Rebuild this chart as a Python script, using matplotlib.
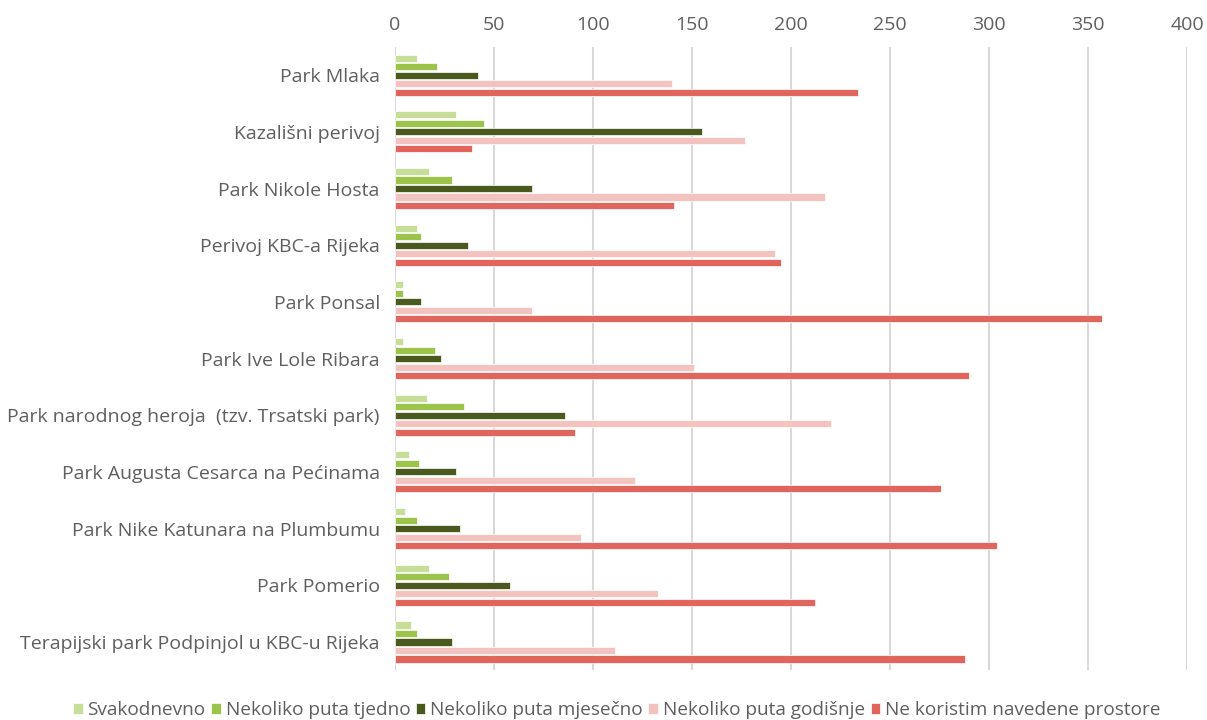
import numpy as np
import matplotlib
matplotlib.use("Agg")
import matplotlib.pyplot as plt

parks = ["Park Mlaka", "Kazališni perivoj", "Park Nikole Hosta", "Perivoj KBC-a Rijeka",
         "Park Ponsal", "Park Ive Lole Ribara", "Park narodnog heroja  (tzv. Trsatski park)",
         "Park Augusta Cesarca na Pećinama", "Park Nike Katunara na Plumbumu",
         "Park Pomerio", "Terapijski park Podpinjol u KBC-u Rijeka"]

series = ["Svakodnevno", "Nekoliko puta tjedno", "Nekoliko puta mjesečno",
          "Nekoliko puta godišnje", "Ne koristim navedene prostore"]
svakodnevno = [11, 31, 17, 11, 4, 4, 16, 7, 5, 17, 8]
tjedno      = [21, 45, 29, 13, 4, 20, 35, 12, 11, 27, 11]
mjesecno    = [42, 155, 69, 37, 13, 23, 86, 31, 33, 58, 29]
godisnje    = [140, 177, 217, 192, 69, 151, 220, 121, 94, 133, 111]
ne_koristim = [234, 39, 141, 195, 357, 290, 91, 276, 304, 212, 288]
colors = ["#C6DE98", "#9CC44A", "#4A5A1F", "#F2C3BF", "#E0655D"]

plt.rcParams["font.family"] = ["Open Sans", "DejaVu Sans"]
fig = plt.figure(figsize=(12.07, 7.2), dpi=100)
ax = fig.add_axes([0.3273, 0.069, 0.9834 - 0.3273, 0.935 - 0.069])

y = np.arange(len(parks))
step, h = 0.15, 0.125
for i, (vals, c, name) in enumerate(zip([svakodnevno, tjedno, mjesecno, godisnje, ne_koristim],
                                         colors, series)):
    ax.barh(y + (i - 2) * step, vals, height=h, color=c, edgecolor="white",
            linewidth=0.5, label=name, zorder=3)

ax.set_xlim(0, 400)
ax.set_ylim(len(parks) - 0.5, -0.5)
ax.xaxis.tick_top()
ax.set_xticks(range(0, 401, 50))
ax.set_yticks(y)
ax.set_yticklabels(parks)
ax.tick_params(length=0, labelsize=14, labelcolor="#5f5f5f", pad=11)
ax.tick_params(axis="x", pad=9)
ax.grid(axis="x", color="#D9D9D9", linewidth=1.5, zorder=0)
for s in ax.spines.values():
    s.set_visible(False)

fig.legend(loc="lower center", bbox_to_anchor=(0.511, -0.023), ncol=5, frameon=False,
           fontsize=13.7, handlelength=0.5, handleheight=0.5, handletextpad=0.25,
           columnspacing=0.3, labelcolor="#5f5f5f")

fig.savefig("out.png", dpi=100)
